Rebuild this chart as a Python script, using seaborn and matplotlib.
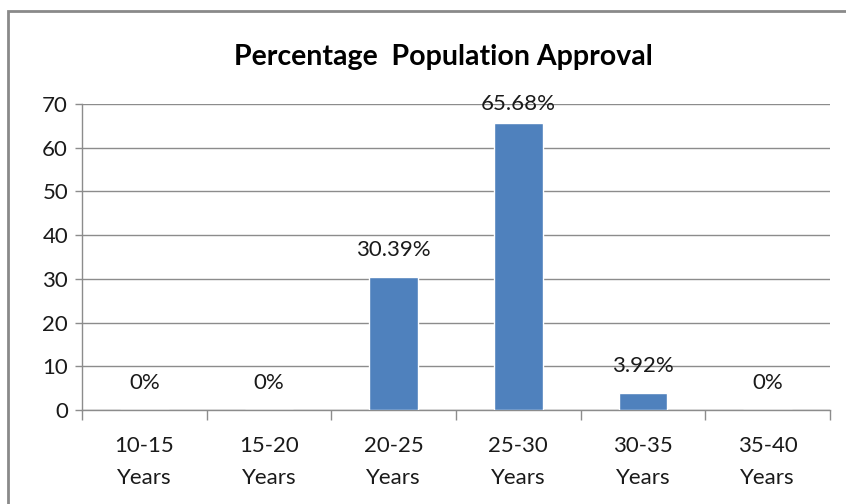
import matplotlib
matplotlib.use("Agg")
import matplotlib.pyplot as plt
import matplotlib.patches as mpatches
import seaborn as sns
import pandas as pd

# Age groups and share of population approving (%)
age_groups = ["10-15\nYears", "15-20\nYears", "20-25\nYears", "25-30\nYears", "30-35\nYears", "35-40\nYears"]
approval = [0, 0, 30.39, 65.68, 3.92, 0]
value_labels = ["0%", "0%", "30.39%", "65.68%", "3.92%", "0%"]
y_ticks = [0, 10, 20, 30, 40, 50, 60, 70]

sns.set_theme(style="white")
plt.rcParams["font.family"] = ["Lato", "DejaVu Sans"]

df = pd.DataFrame({"group": age_groups, "approval": approval})

fig = plt.figure(figsize=(8.46, 5.04), dpi=100)
ax = fig.add_axes([0.0969, 0.1865, 0.884, 0.6072])

sns.barplot(data=df, x="group", y="approval", color="#4F81BD", width=0.39,
            saturation=1, ax=ax, zorder=3)

ax.set_ylim(0, 70)
ax.set_xlim(-0.5, len(age_groups) - 0.5)
ax.set_yticks(y_ticks)
ax.set_xlabel("")
ax.set_ylabel("")
ax.grid(axis="y", color="#8c8c8c", linewidth=1.0, zorder=0)
ax.set_axisbelow(True)

for side in ("top", "right"):
    ax.spines[side].set_visible(False)
for side in ("left", "bottom"):
    ax.spines[side].set_color("#8c8c8c")
    ax.spines[side].set_linewidth(1.0)

ax.tick_params(axis="y", which="major", left=True, length=5, width=1,
               color="#8c8c8c", labelsize=16, pad=5, labelcolor="#1a1a1a")
ax.tick_params(axis="x", which="major", bottom=False, length=0,
               labelsize=16, pad=19, labelcolor="#1a1a1a")
ax.set_xticks(range(len(age_groups)))
ax.set_xticklabels(age_groups, linespacing=1.75)
ax.set_xticks([i - 0.5 for i in range(len(age_groups) + 1)], minor=True)
ax.tick_params(axis="x", which="minor", bottom=True, length=7, width=1,
               color="#8c8c8c", direction="out")

# Value labels above each bar, kept inside the plotting area
for i, (v, lab) in enumerate(zip(approval, value_labels)):
    ax.text(i, min(v + 6.2, 70), lab, ha="center", va="center",
            fontsize=16, color="#1a1a1a", zorder=4)

fig.text(0.524, 0.887, "Percentage  Population Approval", ha="center",
         va="center", fontsize=20.5, fontweight="bold", color="#000000")

# Chart-area frame
fig.patches.append(mpatches.Rectangle((0.009, -0.2), 1.2, 0.2 + 0.979,
                                      transform=fig.transFigure, fill=False,
                                      edgecolor="#8a8a8a", linewidth=2.0))

fig.savefig("out.png", dpi=100, facecolor="white")
